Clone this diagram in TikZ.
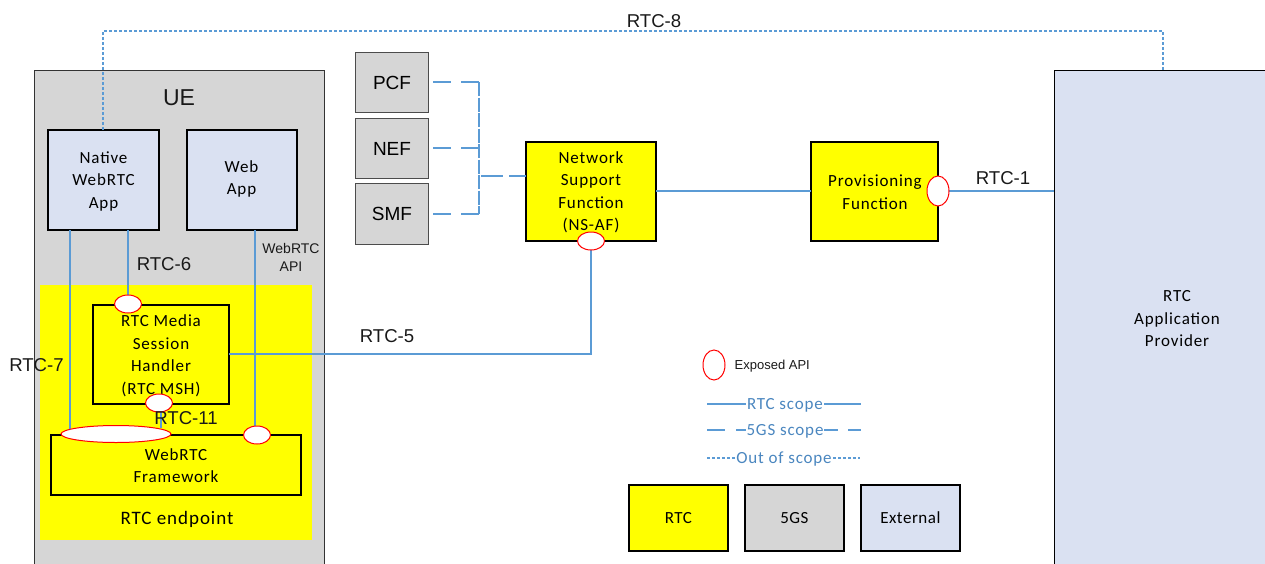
\documentclass[tikz,border=0pt]{standalone}
\usepackage{fontspec}
\setmainfont{Carlito}
\newfontfamily\arialf{Liberation Sans}
\definecolor{cgray}{HTML}{D6D6D6}
\definecolor{cyel}{HTML}{FFFF00}
\definecolor{cext}{HTML}{DAE1F2}
\definecolor{cline}{HTML}{5B9BD5}
\definecolor{cscope}{HTML}{4A86BF}
\usetikzlibrary{shapes.geometric}
\tikzset{
 txtnode/.style={inner sep=0pt,align=center,font=\fontsize{17}{22.5}\selectfont\addfontfeature{LetterSpace=5}},
 blackbox/.style={txtnode,draw=black,line width=1.5pt,xshift=-.9pt,yshift=.9pt},
 graybox/.style={draw=black!70,line width=1pt,fill=cgray,inner sep=0pt,font=\arialf\fontsize{19}{22}\selectfont},
 keybox/.style={blackbox,minimum width=99pt,minimum height=66pt,anchor=north west,font=\fontsize{17}{20}\selectfont\addfontfeature{LetterSpace=3}},
 api/.style={draw=red,fill=white,ellipse,line width=1pt,inner sep=0pt},
 rtcline/.style={draw=cline,line width=2.1pt},
 gsline/.style={draw=cline,line width=2.1pt,dash pattern=on 18pt off 10pt},
 outline/.style={draw=cline,line width=1.4pt,dash pattern=on 3pt off 2pt},
 lab/.style={font=\arialf\fontsize{18.6}{20}\selectfont,inner sep=0pt,text=black!90},
 scopetxt/.style={font=\fontsize{17}{20}\selectfont\addfontfeature{LetterSpace=5},text=cscope,inner sep=0pt},
}
\begin{document}
\begin{tikzpicture}[x=1pt,y=-1pt]
\useasboundingbox (0,0) rectangle (1265,563);
\clip (0,0) rectangle (1265,563);
% large panels
\node[draw=black!80,line width=1pt,fill=cgray,minimum width=290pt,minimum height=520pt,anchor=north west,inner sep=0pt] (ue) at (33.6,69.6) {};
\node[draw=black,line width=1.2pt,fill=cext,minimum width=240pt,minimum height=520pt,anchor=north west,inner sep=0pt] (ext) at (1053.6,69.6) {};
\node[fill=cyel,minimum width=272pt,minimum height=255pt,anchor=north west,inner sep=0pt] (ep) at (40,285) {};
\node[lab,font=\arialf\fontsize{23}{25}\selectfont] (uet) at (179,97.5) {UE};
\node[blackbox,fill=cext,minimum width=111pt,minimum height=100pt,anchor=north west] (nat) at (48,130) {};
\node[blackbox,fill=cext,minimum width=110pt,minimum height=100pt,anchor=north west] (web) at (187,130) {};
\node[txtnode] (natt) at (103.5,181) {Native\\WebRTC\\App};
\node[txtnode] (webt) at (241.5,179) {Web\\App};
\node[blackbox,fill=cyel,minimum width=136pt,minimum height=99pt,anchor=north west] (msh) at (93,305) {};
\node[txtnode] (msht) at (161,356) {RTC Media\\Session\\Handler\\(RTC MSH)};
\node[blackbox,fill=cyel,minimum width=250pt,minimum height=60pt,anchor=north west] (fw) at (51,435) {};
\node[txtnode] (fwt) at (176,465.5) {WebRTC\\Framework};
\node[txtnode,font=\fontsize{19}{22}\selectfont\addfontfeature{LetterSpace=5}] (ept) at (177,519.5) {RTC endpoint};
\node[graybox,minimum width=73pt,minimum height=60pt,anchor=north west] (pcf) at (355,52) {PCF};
\node[graybox,minimum width=73pt,minimum height=60pt,anchor=north west] (nef) at (355,118) {NEF};
\node[graybox,minimum width=73pt,minimum height=61pt,anchor=north west] (smf) at (355,183) {SMF};
\node[blackbox,fill=cyel,minimum width=130pt,minimum height=99pt,anchor=north west] (ns) at (526,142) {};
\node[txtnode] (nst) at (591,192.5) {Network\\Support\\Function\\(NS-AF)};
\node[blackbox,fill=cyel,minimum width=127pt,minimum height=99pt,anchor=north west] (prov) at (811,142) {};
\node[txtnode] (provt) at (875,192) {Provisioning\\Function};
\node[txtnode] (extt) at (1177,319) {RTC\\Application\\Provider};
% junction coordinates
\coordinate (j8a) at (103,31);
\coordinate (j8b) at (1163,31);
\coordinate (jp) at (479,82);
\coordinate (jn) at (479,148);
\coordinate (js) at (479,214);
\coordinate (jc) at (481,176);
\coordinate (j5) at (591,354);
\coordinate (r1) at (746,404);
\coordinate (r2) at (824,404);
\coordinate (o1) at (736,458);
\coordinate (o2) at (833,458);
% connectors
\draw[outline] (103,130) -- (j8a) -- (j8b) -- (1163,70);
\draw[rtcline] (70,230) -- (70,429);
\draw[rtcline] (128,230) -- (128,297);
\draw[rtcline] (255,230) -- (255,428);
\draw[rtcline] (161,412) -- (161,428);
\draw[rtcline] (229,354) -- (j5) -- (591,249);
\draw[rtcline] (656,191) -- (811,191);
\draw[rtcline] (949,191) -- (1054,191);
\draw[gsline] (433,82) -- (jp);
\draw[gsline] (433,148) -- (jn);
\draw[gsline] (433,214) -- (js);
\draw[draw=cline,line width=2.1pt,dash pattern=on 14pt off 1.5pt] (jp) -- (js);
\draw[draw=cline,line width=2.1pt,dash pattern=on 22pt off 6pt] (jc) -- (526,176);
% api ellipses
\node[api,minimum width=27pt,minimum height=18pt] (a1) at (128,304) {};
\node[api,minimum width=27pt,minimum height=18pt] (a2) at (159,403) {};
\node[api,minimum width=110pt,minimum height=17pt] (a3) at (116,434) {};
\node[api,minimum width=27pt,minimum height=18pt] (a4) at (257,435) {};
\node[api,minimum width=27pt,minimum height=18pt] (a5) at (591,241) {};
\node[api,minimum width=22pt,minimum height=30pt] (a6) at (938,191) {};
% labels
\node[lab] (l8) at (654,21) {RTC-8};
\node[lab] (l1) at (1003,178) {RTC-1};
\node[lab] (l6) at (164,264) {RTC-6};
\node[lab] (l7) at (36.5,365) {RTC-7};
\node[lab] (l5) at (387,336) {RTC-5};
\node[lab] (l11) at (186,418) {RTC-11};
\node[lab,font=\arialf\fontsize{14}{18}\selectfont,align=center] (lapi) at (291,257) {WebRTC\\API};
% legend
\node[api,minimum width=22pt,minimum height=30pt] (la) at (714,365) {};
\node[lab,font=\arialf\fontsize{13}{15}\selectfont,anchor=west] (lat) at (734.5,366.5) {Exposed API};
\node[scopetxt] (s1) at (785,405) {RTC scope};
\node[scopetxt] (s2) at (785,431) {5GS scope};
\node[scopetxt] (s3) at (784,459) {Out of scope};
\draw[rtcline] (707,404) -- (r1);
\draw[rtcline] (r2) -- (861,404);
\draw[draw=cline,line width=2.1pt] (707,430) -- (725,430) (736,430) -- (746,430) (824,430) -- (838,430) (848,430) -- (861,430);
\draw[outline] (707,458) -- (o1);
\draw[outline] (o2) -- (860,458);
\node[keybox,fill=cyel] (k1) at (629,485) {RTC};
\node[keybox,fill=cgray] (k2) at (745,485) {5GS};
\node[keybox,fill=cext] (k3) at (861,485) {External};
\end{tikzpicture}
\end{document}
